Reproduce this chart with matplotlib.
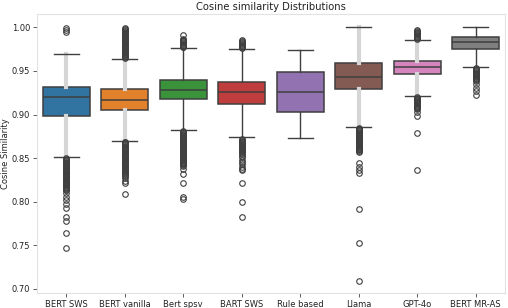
import matplotlib
matplotlib.use("Agg")
import matplotlib.pyplot as plt

# ---------- DATA ----------
models = ["BERT SWS", "BERT vanilla", "Bert spsv", "BART SWS",
          "Rule based", "Llama", "GPT-4o", "BERT MR-AS"]

q1 = [0.8985, 0.9050, 0.9175, 0.9122, 0.9031, 0.9294, 0.9466, 0.9753]
med = [0.9198, 0.9168, 0.9286, 0.9256, 0.9263, 0.9432, 0.9546, 0.9833]
q3 = [0.9313, 0.9294, 0.9397, 0.9374, 0.9493, 0.9588, 0.9615, 0.9890]
whis_lo = [0.8510, 0.8700, 0.8825, 0.8737, 0.8733, 0.8863, 0.9214, 0.9550]
whis_hi = [0.9690, 0.9640, 0.9760, 0.9750, 0.9740, 1.0000, 0.9859, 1.0000]

# outliers; dense runs are typed out point by point
fliers_bert_sws = [0.999, 0.997, 0.995,
                   0.850, 0.849, 0.848, 0.847, 0.846, 0.845, 0.844, 0.843,
                   0.842, 0.841, 0.840, 0.839, 0.838, 0.837, 0.836, 0.835,
                   0.834, 0.833, 0.832, 0.831, 0.830, 0.829, 0.828, 0.827,
                   0.826, 0.825, 0.824, 0.823, 0.822, 0.821, 0.820, 0.819,
                   0.818, 0.817, 0.816, 0.815, 0.814, 0.813,
                   0.810, 0.806, 0.802, 0.798, 0.793, 0.782, 0.778, 0.764, 0.747]
fliers_bert_vanilla = [0.965, 0.966, 0.967, 0.968, 0.969, 0.970, 0.971, 0.972,
                       0.973, 0.974, 0.975, 0.976, 0.977, 0.978, 0.979, 0.980,
                       0.981, 0.982, 0.983, 0.984, 0.985, 0.986, 0.987, 0.988,
                       0.989, 0.990, 0.991, 0.992, 0.993, 0.994, 0.995, 0.996,
                       0.997, 0.998, 0.999,
                       0.869, 0.868, 0.867, 0.866, 0.865, 0.864, 0.863, 0.862,
                       0.861, 0.860, 0.859, 0.858, 0.857, 0.856, 0.855, 0.854,
                       0.853, 0.852, 0.851, 0.850, 0.849, 0.848, 0.847, 0.846,
                       0.845, 0.844, 0.843, 0.842, 0.841, 0.840, 0.839, 0.838,
                       0.837, 0.836, 0.835, 0.834, 0.833, 0.832, 0.831, 0.830,
                       0.827, 0.824, 0.821, 0.809]
fliers_bert_spsv = [0.977, 0.978, 0.979, 0.980, 0.981, 0.982, 0.983, 0.984,
                    0.985, 0.986, 0.987, 0.991,
                    0.881, 0.880, 0.879, 0.878, 0.877, 0.876, 0.875, 0.874,
                    0.873, 0.872, 0.871, 0.870, 0.869, 0.868, 0.867, 0.866,
                    0.865, 0.864, 0.863, 0.862, 0.861, 0.860, 0.859, 0.858,
                    0.857, 0.856, 0.855, 0.854, 0.853, 0.852, 0.851, 0.850,
                    0.849, 0.848, 0.847, 0.846, 0.845, 0.844, 0.843, 0.842,
                    0.841, 0.838, 0.832, 0.822, 0.805, 0.803]
fliers_bart_sws = [0.976, 0.977, 0.978, 0.979, 0.980, 0.981, 0.982, 0.983,
                   0.984, 0.986,
                   0.872, 0.871, 0.870, 0.869, 0.868, 0.867, 0.866, 0.865,
                   0.864, 0.863, 0.862, 0.861, 0.860, 0.859, 0.858, 0.857,
                   0.856, 0.855, 0.853, 0.851, 0.848, 0.846, 0.843, 0.840,
                   0.838, 0.836, 0.821, 0.800, 0.782]
fliers_rule_based = []
fliers_llama = [0.885, 0.884, 0.883, 0.882, 0.881, 0.880, 0.879, 0.878,
                0.877, 0.876, 0.875, 0.874, 0.873, 0.872, 0.871, 0.870,
                0.869, 0.868, 0.867, 0.866, 0.865, 0.864, 0.863, 0.862,
                0.861, 0.860, 0.859, 0.858, 0.857,
                0.845, 0.840, 0.837, 0.833, 0.792, 0.753, 0.709]
fliers_gpt4o = [0.987, 0.988, 0.989, 0.990, 0.991, 0.992, 0.993, 0.994,
                0.995, 0.996, 0.997,
                0.920, 0.919, 0.918, 0.917, 0.916, 0.915, 0.914, 0.913,
                0.912, 0.911, 0.910, 0.909, 0.908, 0.907, 0.906,
                0.903, 0.898, 0.879, 0.837]
fliers_bert_mras = [0.953, 0.952, 0.951, 0.950, 0.949, 0.948, 0.947, 0.946,
                    0.945, 0.944, 0.943, 0.942, 0.941, 0.940, 0.939,
                    0.935, 0.931, 0.927, 0.9225]

fliers = [fliers_bert_sws, fliers_bert_vanilla, fliers_bert_spsv, fliers_bart_sws,
          fliers_rule_based, fliers_llama, fliers_gpt4o, fliers_bert_mras]

yticks = [0.70, 0.75, 0.80, 0.85, 0.90, 0.95, 1.00]
# ---------------------------------------------------

colors = ["#3274a1", "#e1812c", "#3a923a", "#c03d3e",
          "#9372b2", "#845b53", "#d684bd", "#7f7f7f"]
# whiskers that look blurred/grey in the reference
soft = [True, True, False, False, False, True, True, False]
line_c = "#3f3f3f"

stats = []
for i, name in enumerate(models):
    stats.append({"label": name, "q1": q1[i], "med": med[i], "q3": q3[i],
                  "whislo": whis_lo[i], "whishi": whis_hi[i], "fliers": fliers[i]})

fig = plt.figure(figsize=(5.08, 3.08), dpi=100)
ax = fig.add_axes([37 / 508, 15 / 308, 468 / 508, 279 / 308])

bp = ax.bxp(stats, positions=range(len(models)), widths=0.8, capwidths=0.42,
            patch_artist=True, showfliers=True,
            boxprops=dict(edgecolor=line_c, linewidth=1.1),
            medianprops=dict(color=line_c, linewidth=1.1),
            whiskerprops=dict(color=line_c, linewidth=1.0),
            capprops=dict(color=line_c, linewidth=1.0),
            flierprops=dict(marker="o", markersize=4, markerfacecolor="none",
                            markeredgecolor=line_c, markeredgewidth=0.8))

for i, box in enumerate(bp["boxes"]):
    box.set_facecolor(colors[i])
    if soft[i]:
        for w in bp["whiskers"][2 * i:2 * i + 2]:
            w.set_color("#d6d6d6")
            w.set_linewidth(3.0)

ax.set_xlim(-0.5, len(models) - 0.5)
ax.set_ylim(0.6954, 1.0153)
ax.set_yticks(yticks)
ax.set_yticklabels([f"{t:.2f}" for t in yticks])
ax.set_xticks(range(len(models)))
ax.set_xticklabels(models)

for s in ax.spines.values():
    s.set_color("#e2e2e2")
    s.set_linewidth(0.8)
ax.tick_params(axis="both", labelsize=6, colors="#444444", length=3, width=0.6, pad=2)
for lab in ax.get_xticklabels() + ax.get_yticklabels():
    lab.set_color("#222222")

ax.set_title("Cosine similarity Distributions", fontsize=7.2, color="#222222", pad=3)
ax.set_ylabel("Cosine Similarity", fontsize=6, color="#222222")
ax.yaxis.set_label_coords(-0.058, 0.5)

fig.savefig("out.png", dpi=100)
